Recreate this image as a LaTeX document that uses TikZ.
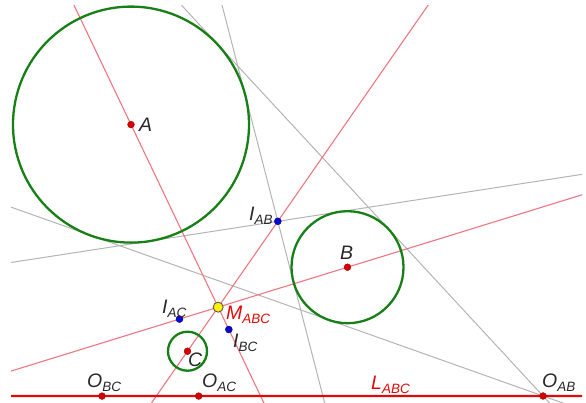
\documentclass[tikz,border=0pt]{standalone}
\usepackage{fontspec}
\setmainfont{Liberation Sans}
\usetikzlibrary{calc}
\definecolor{gcirc}{RGB}{22,128,22}
\definecolor{lred}{RGB}{238,118,128}
\definecolor{hred}{RGB}{225,10,10}
\definecolor{lgray}{RGB}{180,180,180}
\definecolor{dred}{RGB}{215,0,0}
\definecolor{dblue}{RGB}{10,10,210}
\definecolor{txt}{RGB}{40,40,40}
\newcommand\sbs[1]{\raisebox{-4pt}{\fontsize{13.5}{13.5}\selectfont #1}}
\tikzset{
  circ/.style={draw=gcirc, line width=2.3pt},
  thinred/.style={draw=lred, line width=1.1pt},
  thingray/.style={draw=lgray, line width=1.0pt},
  Lline/.style={draw=hred, line width=2.3pt},
  rdot/.style={circle, fill=dred, draw=red!60!black, line width=0.4pt, inner sep=0pt, minimum size=6.8pt},
  bdot/.style={circle, fill=dblue, draw=blue!50!black, line width=0.4pt, inner sep=0pt, minimum size=7pt},
  ydot/.style={circle, fill=yellow, draw=black!65, line width=0.9pt, inner sep=0pt, minimum size=10pt},
  lab/.style={text=txt, inner sep=0pt, anchor=base west, font=\fontsize{19.5}{21}\selectfont\itshape},
  labred/.style={lab, text=hred}
}
\begin{document}
\begin{tikzpicture}[x=1pt,y=-1pt]
\useasboundingbox (0,0) rectangle (586,402);
% centres
\coordinate (A) at (131,124.6);
\coordinate (B) at (347.5,267.2);
\coordinate (C) at (187.5,351.2);
% homothety centres
\coordinate (OAB) at ($(A)!{118/62}!(B)$);
\coordinate (OAC) at ($(A)!{118/98.5}!(C)$);
\coordinate (OBC) at ($(B)!{56/36.5}!(C)$);
\coordinate (IAB) at ($(A)!{118/174}!(B)$);
\coordinate (IAC) at ($(A)!{118/137.5}!(C)$);
\coordinate (IBC) at ($(B)!{56/75.5}!(C)$);
\coordinate (M) at (intersection of A--IBC and B--IAC);
% tangent line anchors
\coordinate (g1) at (11,207.1);
\coordinate (g3) at (181.3,5);
\coordinate (g2) at (11,262.5);
\coordinate (g4) at (222,5);
\begin{scope}
\clip (11,5) rectangle (582,402);
\draw[thingray] (g1) -- ($(g1)!1.2!(OAB)$);
\draw[thingray] (g3) -- ($(g3)!1.2!(OAB)$);
\draw[thingray] (g2) -- ($(g2)!2.5!(IAB)$);
\draw[thingray] (g4) -- ($(g4)!2.5!(IAB)$);
\draw[thinred] ($(A)!-1!(IBC)$) -- ($(A)!2!(IBC)$);
\draw[thinred] ($(IAC)!-2!(B)$) -- ($(IAC)!3!(B)$);
\draw[thinred] ($(C)!-1!(IAB)$) -- ($(C)!4!(IAB)$);
\draw[Lline] ($(OBC)!-1!(OAB)$) -- ($(OBC)!2!(OAB)$);
\draw[circ] (A) circle[radius=118pt];
\draw[circ] (B) circle[radius=56pt];
\draw[circ] (C) circle[radius=19.5pt];
\end{scope}
% points
\node[rdot] (pA) at (A) {};
\node[rdot] (pB) at (B) {};
\node[rdot] (pC) at (C) {};
\node[rdot] (pOAB) at (OAB) {};
\node[rdot] (pOAC) at (OAC) {};
\node[rdot] (pOBC) at (OBC) {};
\node[bdot] (pIAB) at (IAB) {};
\node[bdot] (pIAC) at (IAC) {};
\node[bdot] (pIBC) at (IBC) {};
\node[ydot] (pM) at (M) {};
% labels
\node[lab] (lA) at (139,131) {A};
\node[lab] (lB) at (340,259) {B};
\node[lab] (lC) at (188,366) {C};
\node[lab] (lIAB) at (249,220) {I\sbs{AB}};
\node[lab] (lIAC) at (162,313) {I\sbs{AC}};
\node[lab] (lIBC) at (233,347) {I\sbs{BC}};
\node[labred] (lM) at (226,319) {M\sbs{ABC}};
\node[lab] (lOBC) at (87,387) {O\sbs{BC}};
\node[lab] (lOAC) at (202,387) {O\sbs{AC}};
\node[lab] (lOAB) at (542,387) {O\sbs{AB}};
\node[labred] (lL) at (371,389) {L\sbs{ABC}};
\end{tikzpicture}
\end{document}
